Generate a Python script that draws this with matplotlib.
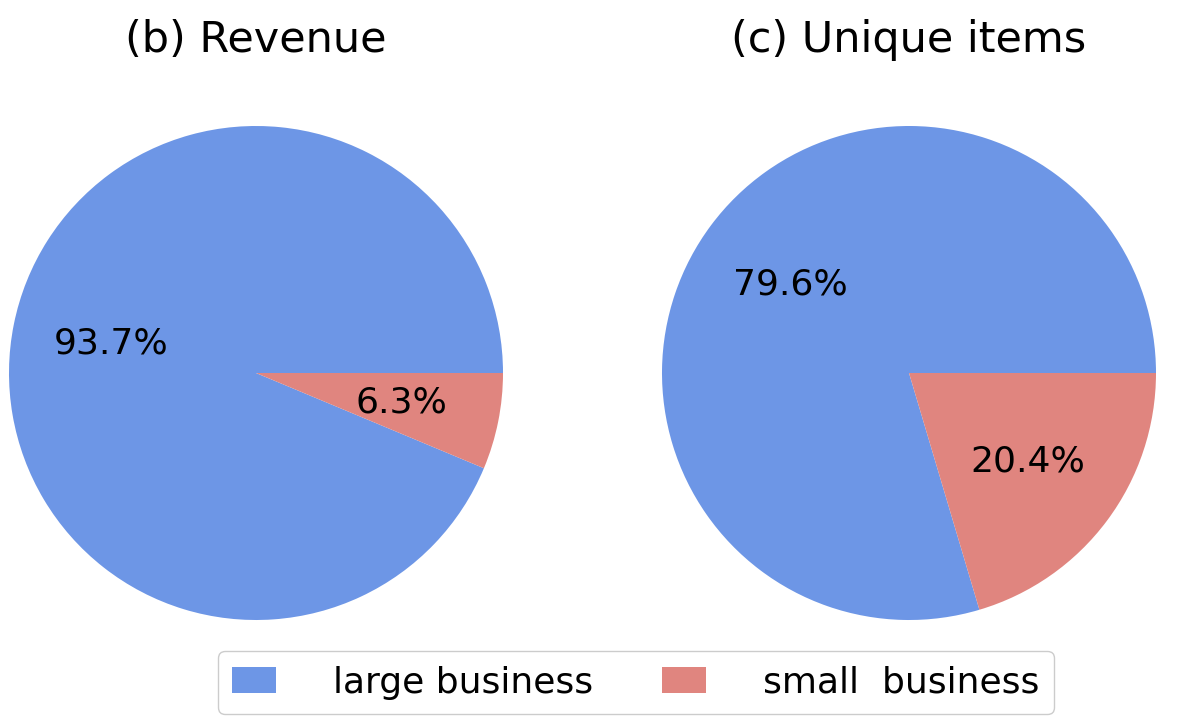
import matplotlib.pyplot as plt

# dados
categorias = ["large business", "small  business"]
receita = [93.7, 6.3]
itens_unicos = [79.6, 20.4]
titulos = ["(b) Revenue", "(c) Unique items"]
cores = ["#6D96E6", "#E0857F"]

fig = plt.figure(figsize=(11.8, 7.26), dpi=100)

ax1 = fig.add_axes([9 / 1180, 106 / 726, 494 / 1180, 494 / 726])
ax2 = fig.add_axes([662 / 1180, 106 / 726, 494 / 1180, 494 / 726])

for ax, valores, titulo in zip([ax1, ax2], [receita, itens_unicos], titulos):
    wedges, _, autotexts = ax.pie(valores, colors=cores, autopct="%1.1f%%",
                                  textprops={"fontsize": 26})
    ax.set_aspect("equal")
    ax.set_xlim(-1, 1)
    ax.set_ylim(-1, 1)
    pos = ax.get_position()
    fig.text(pos.x0 + pos.width / 2, 1 - 40 / 726, titulo,
             ha="center", va="center", fontsize=31)

fig.legend(wedges, categorias, loc="lower center", ncol=2,
           bbox_to_anchor=(636 / 1180, -6 / 726), fontsize=26,
           handlelength=1.2, handleheight=0.7, handletextpad=1.6,
           columnspacing=1.9, edgecolor="#CCCCCC", framealpha=1.0)

fig.savefig("out.png", dpi=100)
